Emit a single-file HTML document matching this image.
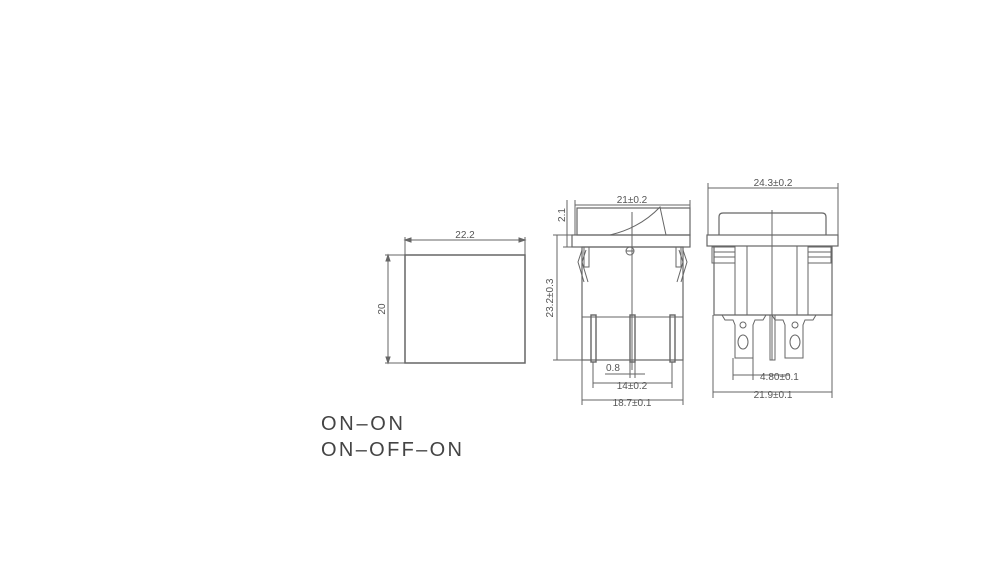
<!DOCTYPE html>
<html><head><meta charset="utf-8"><style>
html,body{margin:0;padding:0;background:#fff;width:1000px;height:576px;overflow:hidden}
svg text{font-family:"Liberation Sans",sans-serif;fill:#555}
</style></head><body>
<svg width="1000" height="576" viewBox="0 0 1000 576" xmlns="http://www.w3.org/2000/svg">
<g stroke="#666" stroke-width="1" fill="none">
<rect x="405" y="255" width="120" height="108" stroke-width="1.5"/>
<line x1="405" y1="240" x2="525" y2="240"/>
<line x1="405" y1="237" x2="405" y2="255"/><line x1="525" y1="237" x2="525" y2="255"/>
<line x1="388" y1="255" x2="388" y2="363"/>
<line x1="385" y1="255" x2="405" y2="255"/><line x1="385" y1="363" x2="405" y2="363"/>
<path d="M405 240l6 -2v4z M525 240l-6 -2v4z M388 255l-2 6h4z M388 363l-2 -6h4z" fill="#666"/>

<rect x="577" y="208" width="113" height="27" stroke-width="1.2"/>
<rect x="572" y="235" width="118" height="12" stroke-width="1.2"/>
<path d="M610 235 Q640 228 660 207 L666 235" />
<rect x="582" y="247" width="101" height="113" stroke-width="1.2"/>
<line x1="582" y1="317" x2="683" y2="317"/>
<path d="M582 250 L578 262 L584 282 M586 250 L582 262 L588 282"/>
<path d="M683 250 L687 262 L681 282 M679 250 L683 262 L677 282"/>
<rect x="584" y="247" width="5" height="20"/><rect x="676" y="247" width="5" height="20"/>
<circle cx="630" cy="251" r="4"/><line x1="626" y1="251" x2="634" y2="251"/>
<line x1="632" y1="212" x2="632" y2="370"/>
<g stroke-width="1.4">
<rect x="591" y="315" width="5" height="47"/><rect x="630" y="315" width="5" height="47"/><rect x="670" y="315" width="5" height="47"/>
</g>
<line x1="575" y1="205" x2="690" y2="205"/>
<line x1="575" y1="200" x2="575" y2="235"/><line x1="690" y1="200" x2="690" y2="235"/>
<line x1="557" y1="235" x2="557" y2="360"/>
<line x1="553" y1="235" x2="572" y2="235"/><line x1="553" y1="360" x2="582" y2="360"/>
<line x1="567" y1="200" x2="567" y2="247"/>
<line x1="563" y1="247" x2="572" y2="247"/>
<line x1="593" y1="362" x2="593" y2="388"/><line x1="672" y1="362" x2="672" y2="388"/>
<line x1="582" y1="360" x2="582" y2="405"/><line x1="683" y1="360" x2="683" y2="405"/>
<line x1="630" y1="362" x2="630" y2="378"/><line x1="635" y1="362" x2="635" y2="378"/>
<line x1="605" y1="374" x2="645" y2="374"/>
<line x1="593" y1="383" x2="672" y2="383"/>
<line x1="582" y1="400" x2="683" y2="400"/>

<line x1="708" y1="188" x2="838" y2="188"/>
<line x1="708" y1="183" x2="708" y2="235"/><line x1="838" y1="183" x2="838" y2="235"/>
<path d="M719 235 V217 Q719 213 723 213 H822 Q826 213 826 217 V235" stroke-width="1.2"/>
<rect x="707" y="235" width="131" height="11" stroke-width="1.2"/>
<path d="M714 246 V315 H832 V246" stroke-width="1.2"/>
<rect x="712" y="247" width="23" height="16"/>
<rect x="808" y="247" width="23" height="16"/>
<line x1="714" y1="252" x2="735" y2="252"/><line x1="714" y1="257" x2="735" y2="257"/>
<line x1="808" y1="252" x2="831" y2="252"/><line x1="808" y1="257" x2="831" y2="257"/>
<line x1="735" y1="263" x2="735" y2="315"/><line x1="808" y1="263" x2="808" y2="315"/>
<line x1="747" y1="246" x2="747" y2="315"/><line x1="797" y1="246" x2="797" y2="315"/>
<line x1="772" y1="210" x2="772" y2="360"/>
<rect x="770" y="315" width="5" height="45"/>
<path d="M722 315 l3 5 h8 l2 5 v33 h18 v-33 l2 -5 h8 l3 -5"/>
<path d="M772 315 l3 5 h8 l2 5 v33 h18 v-33 l2 -5 h8 l3 -5"/>
<ellipse cx="743" cy="342" rx="5" ry="7"/><ellipse cx="795" cy="342" rx="5" ry="7"/>
<circle cx="743" cy="325" r="3"/><circle cx="795" cy="325" r="3"/>
<line x1="733" y1="358" x2="733" y2="380"/><line x1="753" y1="358" x2="753" y2="380"/>
<line x1="733" y1="375" x2="790" y2="375"/>
<line x1="713" y1="315" x2="713" y2="398"/><line x1="832" y1="315" x2="832" y2="398"/>
<line x1="713" y1="392" x2="832" y2="392"/>
</g>
<g font-size="10">
<text x="465" y="238" text-anchor="middle">22.2</text>
<text x="385" y="309" text-anchor="middle" transform="rotate(-90 385 309)">20</text>
<text x="632" y="203" text-anchor="middle">21±0.2</text>
<text x="565" y="215" text-anchor="middle" transform="rotate(-90 565 215)">2.1</text>
<text x="553" y="298" text-anchor="middle" transform="rotate(-90 553 298)">23.2±0.3</text>
<text x="606" y="371">0.8</text>
<text x="632" y="389" text-anchor="middle">14±0.2</text>
<text x="632" y="406" text-anchor="middle">18.7±0.1</text>
<text x="773" y="186" text-anchor="middle">24.3±0.2</text>
<text x="760" y="380">4.80±0.1</text>
<text x="773" y="398" text-anchor="middle">21.9±0.1</text>
</g>
<g font-size="20">
<text x="321" y="430" textLength="82" lengthAdjust="spacing" style="fill:#444">ON–ON</text>
<text x="321" y="456" textLength="141" lengthAdjust="spacing" style="fill:#444">ON–OFF–ON</text>
</g>
</svg>
</body></html>
